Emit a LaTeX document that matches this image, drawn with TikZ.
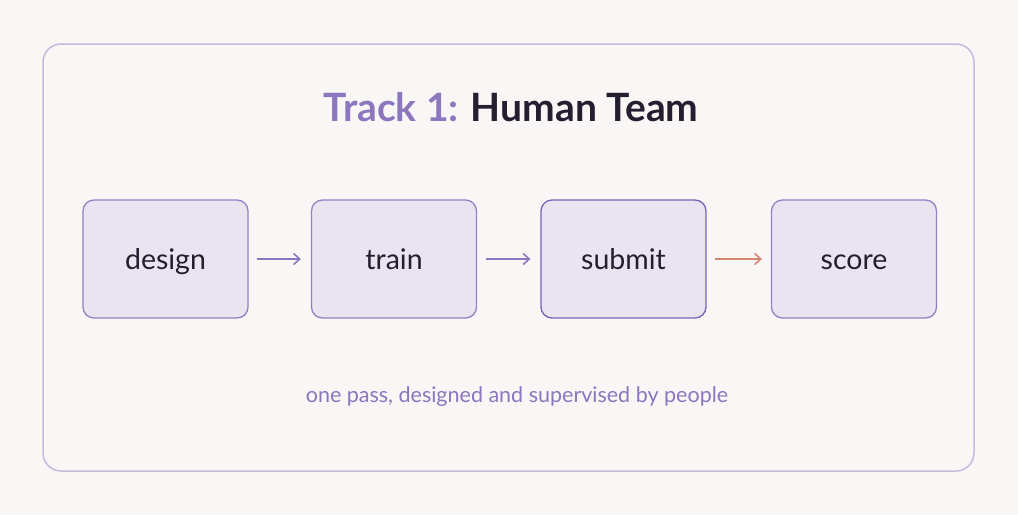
\documentclass[tikz,border=0pt]{standalone}
\usepackage{fontspec}
\setmainfont{Lato}
\usetikzlibrary{arrows.meta}
\definecolor{bg}{RGB}{248,247,245}
\definecolor{frame}{RGB}{196,186,224}
\definecolor{boxfill}{RGB}{233,229,240}
\definecolor{boxline}{RGB}{148,128,196}
\definecolor{boxdark}{RGB}{122,98,180}
\definecolor{accent}{RGB}{140,118,190}
\definecolor{ink}{RGB}{35,30,48}
\definecolor{warm}{RGB}{214,134,112}
\tikzset{
  x=1pt, y=-1pt,
  stepbox/.style={draw=boxline, line width=1.3pt, fill=boxfill, rounded corners=11pt,
    minimum width=165pt, minimum height=118pt, inner sep=0pt, text height=23pt, text depth=3pt,
    font=\fontsize{28.5}{32}\selectfont, text=ink},
  flow/.style={draw=accent, line width=1.6pt, -{Straight Barb[length=6pt,width=11pt]}},
}
\begin{document}
\begin{tikzpicture}
\fill[bg] (0,0) rectangle (1018,515);
\useasboundingbox (0,0) rectangle (1018,515);
\draw[frame, line width=1.5pt, rounded corners=18pt] (43,44) rectangle (974,471);
\node (title) at (511,107) {\fontsize{39}{44}\selectfont\bfseries\textcolor{accent}{Track 1:}\hspace{12pt}\textcolor{ink}{Human Team}};
\node[stepbox] (design) at (165.5,259) {design};
\node[stepbox] (train) at (394,259) {train};
\node[stepbox, draw=boxdark] (submit) at (623.5,259) {submit};
\node[stepbox] (score) at (854,259) {score};
\draw[flow] ([xshift=8pt]design.east) -- ([xshift=-10pt]train.west);
\draw[flow] ([xshift=9pt]train.east) -- ([xshift=-10pt]submit.west);
\draw[flow, draw=warm] ([xshift=8pt]submit.east) -- ([xshift=-9pt]score.west);
\node[text=accent, font=\fontsize{21.5}{25}\selectfont] (caption) at (517,397) {one pass, designed and supervised by people};
\end{tikzpicture}
\end{document}
